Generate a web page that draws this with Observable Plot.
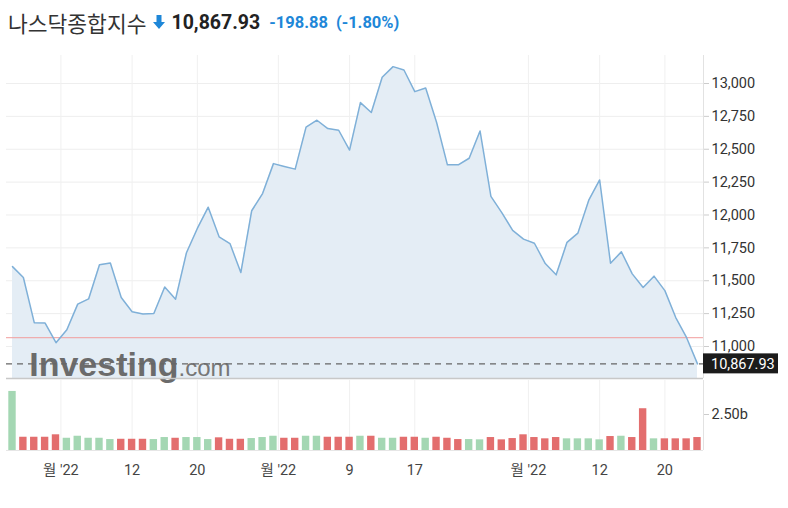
<!DOCTYPE html>
<html>
<head>
<meta charset="utf-8">
<script src="https://cdn.jsdelivr.net/npm/d3@7"></script>
<script src="https://cdn.jsdelivr.net/npm/@observablehq/plot@0.6"></script>
<style>
  body { margin: 0; background: #fff; width: 788px; height: 508px; overflow: hidden; position: relative;
         font-family: Roboto, "Noto Sans CJK KR", sans-serif; }
  #hdr { position: absolute; left: 8px; top: 6px; height: 32px; display: flex; align-items: center; white-space: nowrap; z-index: 2; }
  #hdr .name { font-family: "Noto Sans CJK KR", sans-serif; font-size: 21.5px; color: #333; }
  #hdr .price { font-weight: bold; font-size: 19.5px; color: #222; margin-left: 6px; }
  #hdr .chg { font-weight: bold; font-size: 16.5px; color: #1e87d8; margin-left: 9px; }
  #hdr .pct { font-weight: bold; font-size: 16.5px; color: #1e87d8; margin-left: 8px; }
  #price, #vol { position: absolute; left: 0; }
  #price { top: 0; }
  #vol { top: 378px; }
</style>
</head>
<body>
<div id="hdr"></div>
<div id="price"></div>
<div id="vol"></div>
<script>
const title = "나스닥종합지수";
const dates = [
  "2022-06-24","2022-06-27","2022-06-28","2022-06-29","2022-06-30",
  "2022-07-01","2022-07-05","2022-07-06","2022-07-07","2022-07-08","2022-07-11","2022-07-12","2022-07-13","2022-07-14","2022-07-15",
  "2022-07-18","2022-07-19","2022-07-20","2022-07-21","2022-07-22","2022-07-25","2022-07-26","2022-07-27","2022-07-28","2022-07-29",
  "2022-08-01","2022-08-02","2022-08-03","2022-08-04","2022-08-05","2022-08-08","2022-08-09","2022-08-10","2022-08-11","2022-08-12",
  "2022-08-15","2022-08-16","2022-08-17","2022-08-18","2022-08-19","2022-08-22","2022-08-23","2022-08-24","2022-08-25","2022-08-26",
  "2022-08-29","2022-08-30","2022-08-31",
  "2022-09-01","2022-09-02","2022-09-06","2022-09-07","2022-09-08","2022-09-09","2022-09-12","2022-09-13","2022-09-14","2022-09-15",
  "2022-09-16","2022-09-19","2022-09-20","2022-09-21","2022-09-22","2022-09-23"
];
const closes = [
  11607.62, 11524.55, 11181.54, 11177.89, 11028.74,
  11127.85, 11322.24, 11361.85, 11621.35, 11635.31, 11372.60, 11264.73, 11247.58, 11251.19, 11452.42,
  11360.05, 11713.15, 11897.65, 12059.61, 11834.11, 11782.67, 11562.58, 12032.42, 12162.59, 12390.69,
  12368.98, 12348.76, 12668.16, 12720.58, 12657.55, 12644.46, 12493.93, 12854.81, 12779.91, 13047.19,
  13128.05, 13102.55, 12938.12, 12965.34, 12705.22, 12381.57, 12381.30, 12431.53, 12639.27, 12141.71,
  12017.67, 11883.14, 11816.20,
  11785.13, 11630.86, 11544.91, 11791.90, 11862.13, 12112.31, 12266.41, 11633.57, 11719.68, 11552.36,
  11448.40, 11535.02, 11425.05, 11220.19, 11066.81, 10867.93
];
// volume in billions
const volumes = [
  4.10, 0.92, 0.92, 0.92, 1.09,
  0.85, 0.99, 0.85, 0.85, 0.76, 0.78, 0.78, 0.78, 0.76, 0.90,
  0.85, 0.90, 0.90, 0.76, 0.88, 0.78, 0.78, 0.83, 0.90, 0.99,
  0.85, 0.85, 0.99, 0.99, 0.92, 0.92, 0.92, 0.99, 0.99, 0.85,
  0.85, 0.92, 0.92, 0.85, 0.92, 0.85, 0.76, 0.76, 0.74, 0.90,
  0.74, 0.83, 1.09,
  0.90, 0.81, 0.90, 0.81, 0.81, 0.81, 0.74, 0.97, 0.99, 0.90,
  2.90, 0.81, 0.81, 0.81, 0.81, 0.90
];
const firstUp = true; // first session closed higher than the session before it
const priceTicks = [11000, 11250, 11500, 11750, 12000, 12250, 12500, 12750, 13000];
const volumeTicks = [2.5];
const xTickDates = ["2022-07-01","2022-07-12","2022-07-20","2022-08-01","2022-08-09","2022-08-17","2022-09-01","2022-09-12","2022-09-20"];
const xTickLabels = ["월 '22","12","20","월 '22","9","17","월 '22","12","20"];
const monthTick = [true,false,false,true,false,false,true,false,false];

const n = dates.length;
const data = dates.map((d, i) => ({
  i, date: d, c: closes[i], v: volumes[i],
  up: i === 0 ? firstUp : closes[i] >= closes[i - 1]
}));
const lastClose = closes[n - 1];
const prevClose = closes[n - 2];
const change = lastClose - prevClose;
const pct = change / prevClose * 100;

// header
const fmt2 = d3.format(",.2f");
document.getElementById("hdr").innerHTML =
  `<span class="name">${title}</span>` +
  `<svg width="12" height="14" viewBox="0 0 12 14" style="margin-left:7px"><path d="M3.5 0h5v7h3.5L6 14 0 7h3.5z" fill="#1e87d8"/></svg>` +
  `<span class="price">${fmt2(lastClose)}</span>` +
  `<span class="chg">${change.toFixed(2)}</span>` +
  `<span class="pct">(${pct.toFixed(2)}%)</span>`;

const xPad = 0.552;
const xDomain = [-xPad, n - 1 + xPad];
const tickPos = xTickDates.map((d, k) => dates.indexOf(d) - (monthTick[k] ? 0.55 : 0));
const tickLabelOf = new Map(tickPos.map((p, k) => [p, xTickLabels[k]]));
const yDomain = [10756.65, 13212.9];
const font = "Roboto, 'Noto Sans CJK KR', sans-serif";
const W = 788, mL = 6, mR = 85;

const priceBox = (index, scales, values, dims) => {
  const y = scales.y(lastClose);
  const x = dims.width - dims.marginRight;
  const g = d3.create("svg:g");
  g.append("rect").attr("x", x).attr("y", y - 10).attr("width", 75).attr("height", 20).attr("fill", "#1b1b1b");
  g.append("text").attr("x", x + 8).attr("y", y).attr("dy", "0.36em").attr("text-anchor", "start")
    .attr("fill", "#fff").attr("font-size", 14.5).attr("font-family", font).text(fmt2(lastClose));
  return g.node();
};

const price = Plot.plot({
  width: W, height: 380,
  marginTop: 55, marginBottom: 2, marginLeft: mL, marginRight: mR,
  style: { fontFamily: font, fontSize: "14px", color: "#333", background: "transparent", overflow: "visible" },
  x: { domain: xDomain, axis: null },
  y: { domain: yDomain },
  marks: [
    Plot.gridY(priceTicks, { stroke: "#eeeeee", strokeOpacity: 1 }),
    Plot.ruleX(tickPos, { stroke: "#f0f0f0" }),
    Plot.areaY(data, { x: "i", y1: () => yDomain[0], y2: "c", fill: "#e4edf5" }),
    Plot.ruleY([prevClose], { stroke: "#f19c9c", strokeWidth: 1 }),
    Plot.text(["Investing"], { frameAnchor: "bottom-left", dx: 172, dy: -3, textAnchor: "end", lineAnchor: "bottom",
      fontSize: 34, fontWeight: "bold", fill: "#6b6b6b", fontFamily: "'Liberation Sans', Arial, sans-serif" }),
    Plot.text([".com"], { frameAnchor: "bottom-left", dx: 172, dy: -3, textAnchor: "start", lineAnchor: "bottom",
      fontSize: 24, fill: "#777", fontFamily: "'Liberation Sans', Arial, sans-serif" }),
    Plot.ruleY([lastClose], { stroke: "#666", strokeDasharray: "6,5", strokeWidth: 1.2 }),
    Plot.line(data, { x: "i", y: "c", stroke: "#7fb0d8", strokeWidth: 1.5 }),
    Plot.ruleY([yDomain[0]], { stroke: "#c8c8c8", strokeWidth: 1.5 }),
    Plot.ruleX([xDomain[1]], { stroke: "#e2e2e2" }),
    Plot.axisY(priceTicks, { anchor: "right", tickFormat: d3.format(","), tickSize: 5, tickPadding: 3,
      stroke: "#cccccc", fill: "#333", fontSize: 14.5, label: null }),
    priceBox
  ]
});
document.getElementById("price").appendChild(price);

const vol = Plot.plot({
  width: W, height: 130,
  marginTop: 2, marginBottom: 58, marginLeft: mL, marginRight: mR,
  style: { fontFamily: font, fontSize: "14px", color: "#333", background: "transparent", overflow: "visible" },
  x: { domain: xDomain },
  y: { domain: [0, 4.86] },
  marks: [
    Plot.ruleX(tickPos, { stroke: "#f0f0f0", y1: 0, y2: 4.86 }),
    Plot.rectY(data, { x1: d => d.i - 0.34, x2: d => d.i + 0.34, y: "v", fill: d => d.up ? "#a4d7b3" : "#e36e6e" }),
    Plot.ruleY([0], { stroke: "#e6e6e6" }),
    Plot.ruleX([xDomain[1]], { stroke: "#e2e2e2", y1: 0, y2: 4.86 }),
    Plot.axisY(volumeTicks, { anchor: "right", tickFormat: d => d.toFixed(2) + "b", tickSize: 5, tickPadding: 3,
      stroke: "#cccccc", fill: "#333", fontSize: 14.5, label: null }),
    Plot.axisX(tickPos, { anchor: "bottom", tickFormat: d => tickLabelOf.get(d), tickSize: 0, tickPadding: 14,
      fill: "#444", fontSize: 14.5, label: null })
  ]
});
document.getElementById("vol").appendChild(vol);
</script>
</body>
</html>
